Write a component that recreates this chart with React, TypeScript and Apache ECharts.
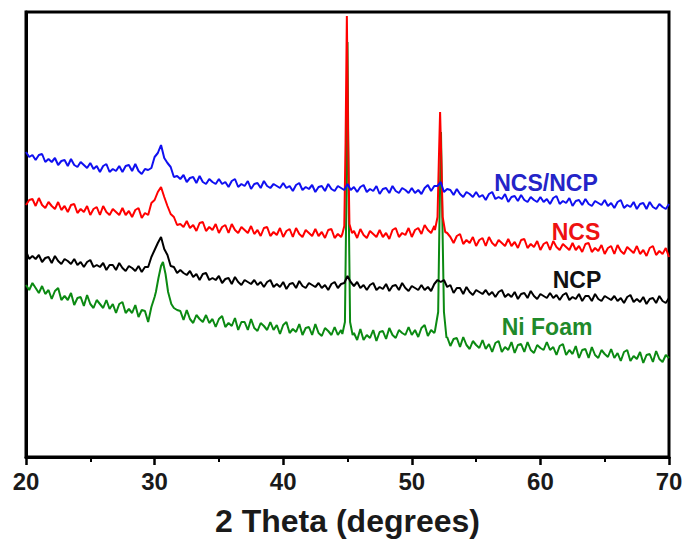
import React, { useEffect, useRef } from "react";
import * as echarts from "echarts";

// 2θ grid of the base scans: 20° to 70° in 0.25° steps (one row = one degree)
const X_START = 20;
const X_STEP = 0.25;

const seriesNames = ["Ni Foam", "NCP", "NCS", "NCS/NCP"];
const seriesColors = ["#0b8a12", "#000000", "#ff0000", "#1010f0"];
const labelColors = ["#1f8a2a", "#111111", "#ee1111", "#2424c8"];

// Intensity (a.u., offset for display)
const ncsNcpBase = [
  310, 305, 307, 302,
  307, 308, 300, 303,
  300, 304, 297, 301,
  302, 296, 303, 297,
  295, 300, 297, 294,
  299, 293, 296, 290,
  296, 298, 290, 293,
  291, 296, 290, 296,
  297, 291, 298, 291,
  288, 293, 292, 294,
  305, 309, 317, 304,
  299, 295, 285, 286,
  283, 287, 280, 284,
  285, 279, 286, 280,
  278, 283, 280, 278,
  283, 278, 280, 275,
  281, 283, 275, 278,
  276, 281, 273, 278,
  279, 274, 281, 276,
  274, 278, 276, 274,
  279, 274, 276, 271,
  277, 279, 272, 275,
  273, 277, 270, 275,
  276, 271, 278, 273,
  271, 276, 274, 272,
  278, 272, 275, 270,
  275, 277, 270, 273,
  271, 276, 268, 273,
  274, 269, 276, 271,
  269, 274, 272, 269,
  274, 269, 272, 268,
  274, 277, 271, 276,
  276, 280, 270, 273,
  272, 267, 273, 268,
  265, 270, 268, 265,
  270, 265, 267, 262,
  268, 270, 263, 265,
  263, 268, 260, 265,
  266, 261, 267, 262,
  260, 265, 262, 260,
  265, 260, 263, 258,
  264, 266, 258, 261,
  259, 264, 256, 261,
  262, 257, 263, 258,
  256, 261, 259, 257,
  262, 256, 259, 254,
  260, 262, 254, 257,
  255, 260, 253, 258,
  259, 253, 260, 255,
  253, 258, 255, 253,
  258,
];

const ncsBase = [
  257, 262, 263, 256,
  264, 257, 254, 260,
  256, 253, 260, 252,
  256, 250, 257, 258,
  249, 253, 250, 256,
  247, 253, 255, 247,
  256, 250, 247, 253,
  250, 247, 254, 247,
  251, 245, 252, 254,
  244, 249, 247, 259,
  262, 270, 275, 265,
  256, 248, 245, 237,
  238, 235, 241, 234,
  237, 231, 239, 240,
  231, 235, 232, 238,
  229, 235, 237, 229,
  238, 232, 229, 235,
  232, 229, 236, 228,
  232, 226, 234, 235,
  226, 230, 227, 234,
  225, 231, 233, 225,
  234, 228, 225, 232,
  229, 226, 233, 226,
  230, 224, 232, 233,
  224, 228, 225, 232,
  223, 230, 231, 224,
  233, 227, 224, 231,
  228, 225, 232, 225,
  229, 223, 232, 234,
  225, 229, 227, 234,
  225, 232, 234, 228,
  237, 232, 229, 236,
  233, 238, 232, 229,
  225, 219, 226, 228,
  218, 222, 219, 225,
  216, 222, 224, 216,
  225, 219, 216, 222,
  219, 216, 223, 216,
  220, 214, 222, 223,
  214, 218, 215, 221,
  212, 218, 220, 212,
  221, 215, 212, 218,
  215, 212, 219, 212,
  216, 210, 218, 219,
  210, 214, 211, 217,
  208, 214, 216, 208,
  217, 211, 208, 215,
  212, 209, 216, 208,
  212, 206, 214, 216,
  207, 211, 208, 214,
  205,
];

const ncpBase = [
  211, 203, 206, 203,
  207, 200, 204, 205,
  199, 206, 201, 198,
  203, 201, 198, 203,
  197, 200, 195, 200,
  202, 195, 197, 195,
  199, 192, 197, 197,
  192, 199, 194, 191,
  196, 194, 191, 196,
  190, 195, 195, 205,
  212, 219, 225, 213,
  207, 196, 195, 189,
  192, 189, 187, 191,
  185, 188, 182, 188,
  189, 182, 184, 182,
  186, 179, 183, 184,
  178, 185, 180, 177,
  182, 180, 178, 182,
  177, 180, 175, 180,
  182, 175, 178, 175,
  180, 173, 178, 179,
  174, 181, 176, 174,
  179, 177, 175, 179,
  174, 177, 172, 178,
  180, 174, 178, 179,
  186, 180, 176, 180,
  174, 177, 172, 177,
  179, 172, 175, 173,
  178, 171, 176, 177,
  172, 179, 174, 171,
  176, 174, 172, 177,
  172, 175, 171, 178,
  182, 180, 182, 175,
  177, 169, 174, 174,
  168, 175, 170, 167,
  172, 170, 168, 172,
  167, 170, 165, 170,
  172, 165, 168, 165,
  170, 163, 168, 169,
  164, 171, 166, 163,
  168, 166, 164, 169,
  164, 167, 162, 167,
  169, 162, 165, 163,
  168, 161, 166, 166,
  161, 168, 163, 161,
  166, 164, 162, 166,
  161, 164, 159, 165,
  167, 160, 163, 160,
  165, 158, 163, 164,
  159, 166, 161, 159,
  164,
];

const niFoamBase = [
  177, 172, 179, 174,
  169, 176, 168, 172,
  163, 171, 174, 162,
  166, 162, 169, 157,
  164, 165, 156, 167,
  158, 154, 162, 158,
  154, 162, 153, 158,
  149, 158, 160, 149,
  153, 149, 157, 145,
  152, 151, 140, 155,
  165, 180, 192, 185,
  176, 165, 154, 152,
  151, 142, 152, 143,
  139, 147, 143, 140,
  147, 139, 143, 135,
  143, 146, 135, 139,
  136, 144, 132, 140,
  140, 132, 143, 134,
  131, 139, 136, 132,
  140, 132, 137, 128,
  137, 140, 129, 133,
  130, 138, 127, 134,
  135, 127, 138, 129,
  126, 134, 131, 127,
  135, 127, 132, 130,
  130, 128, 129, 122,
  133, 122, 127, 124,
  132, 121, 130, 131,
  123, 134, 127, 124,
  132, 129, 127, 135,
  127, 132, 125, 134,
  137, 126, 132, 129,
  131, 140, 135, 125,
  116, 123, 124, 115,
  125, 117, 113, 121,
  117, 114, 122, 113,
  118, 110, 119, 121,
  110, 115, 112, 120,
  109, 117, 118, 110,
  120, 112, 109, 117,
  114, 112, 120, 112,
  115, 107, 116, 118,
  107, 112, 108, 116,
  104, 112, 113, 104,
  115, 107, 104, 112,
  108, 105, 113, 104,
  109, 101, 110, 112,
  101, 106, 103, 110,
  99, 107, 108, 100,
  111, 103, 100, 107,
  104,
];

// Sharp reflections, [2θ, intensity]
const ncsPeak45: [number, number][] = [
  [44.6, 228], [44.75, 236], [44.85, 320], [44.95, 446], [45.05, 320], [45.15, 238], [45.35, 229],
];
const ncsPeak52: [number, number][] = [
  [51.8, 232], [52.0, 245], [52.1, 300], [52.2, 350], [52.3, 300], [52.4, 245], [52.6, 230],
];
const niFoamPeak30: [number, number][] = [
  [30.1, 170], [30.3, 184], [30.5, 196], [30.65, 200], [30.85, 188], [31.05, 170], [31.3, 158],
];
const niFoamPeak45: [number, number][] = [
  [44.6, 128], [44.8, 140], [44.9, 250], [45.0, 420], [45.1, 250], [45.2, 140], [45.4, 127],
];
const niFoamPeak52: [number, number][] = [
  [51.8, 131], [52.05, 150], [52.15, 240], [52.27, 330], [52.38, 240], [52.5, 150], [52.7, 124],
];

const xTicks = [20, 30, 40, 50, 60, 70];

function build(base: number[], peaks: [number, number][][]): [number, number][] {
  const pts: [number, number][] = base.map((v, i) => [X_START + i * X_STEP, v]);
  const kept = pts.filter(
    ([x]) => !peaks.some((p) => x > p[0][0] && x < p[p.length - 1][0])
  );
  const all = [...kept, ...peaks.flat()] as [number, number][];
  return all.sort((a, b) => a[0] - b[0]);
}

export default function App() {
  const ref = useRef<HTMLDivElement>(null);
  useEffect(() => {
    if (!ref.current) return;
    const chart = echarts.init(ref.current, null, { renderer: "svg" });
    const datasets = [
      build(niFoamBase, [niFoamPeak30, niFoamPeak45, niFoamPeak52]),
      build(ncpBase, []),
      build(ncsBase, [ncsPeak45, ncsPeak52]),
      build(ncsNcpBase, []),
    ];
    const labelPos = [
      [547, 327],
      [577, 280],
      [576, 232],
      [546, 183],
    ];
    const font = "'Liberation Sans', Arial, Helvetica, sans-serif";
    chart.setOption({
      animation: false,
      backgroundColor: "#ffffff",
      grid: {
        left: 26,
        right: 17,
        top: 12,
        bottom: 87,
        show: true,
        borderColor: "#000",
        borderWidth: 3,
      },
      xAxis: {
        type: "value",
        min: xTicks[0],
        max: xTicks[xTicks.length - 1],
        interval: 10,
        name: "2 Theta (degrees)",
        nameLocation: "middle",
        nameGap: 48,
        nameTextStyle: {
          fontSize: 32,
          fontWeight: "bold",
          color: "#1a1a1a",
          fontFamily: font,
        },
        axisLine: { show: true, lineStyle: { color: "#000", width: 3 } },
        axisTick: { show: true, length: 8, lineStyle: { color: "#000", width: 2.5 } },
        minorTick: { show: true, splitNumber: 2, length: 5, lineStyle: { color: "#000", width: 2 } },
        axisLabel: {
          fontSize: 24,
          fontWeight: "bold",
          color: "#1a1a1a",
          fontFamily: font,
          margin: 12,
        },
        splitLine: { show: false },
        minorSplitLine: { show: false },
      },
      yAxis: {
        type: "value",
        min: 5,
        max: 450,
        axisLine: { show: true, lineStyle: { color: "#000", width: 3 } },
        axisTick: { show: false },
        axisLabel: { show: false },
        splitLine: { show: false },
      },
      series: datasets.map((d, i) => ({
        name: seriesNames[i],
        type: "line",
        data: d,
        showSymbol: false,
        symbol: "none",
        lineStyle: { color: seriesColors[i], width: 2 },
        z: 2 + i,
      })),
      graphic: seriesNames.map((n, i) => ({
        type: "text",
        x: labelPos[i][0],
        y: labelPos[i][1],
        z: 100,
        style: {
          text: n,
          fill: labelColors[i],
          font: `bold 23px ${font}`,
          textAlign: "center",
          textVerticalAlign: "middle",
        },
      })),
    });
    return () => chart.dispose();
  }, []);
  return (
    <div
      ref={ref}
      style={{ position: "absolute", left: 0, top: 0, width: 686, height: 544 }}
    />
  );
}
